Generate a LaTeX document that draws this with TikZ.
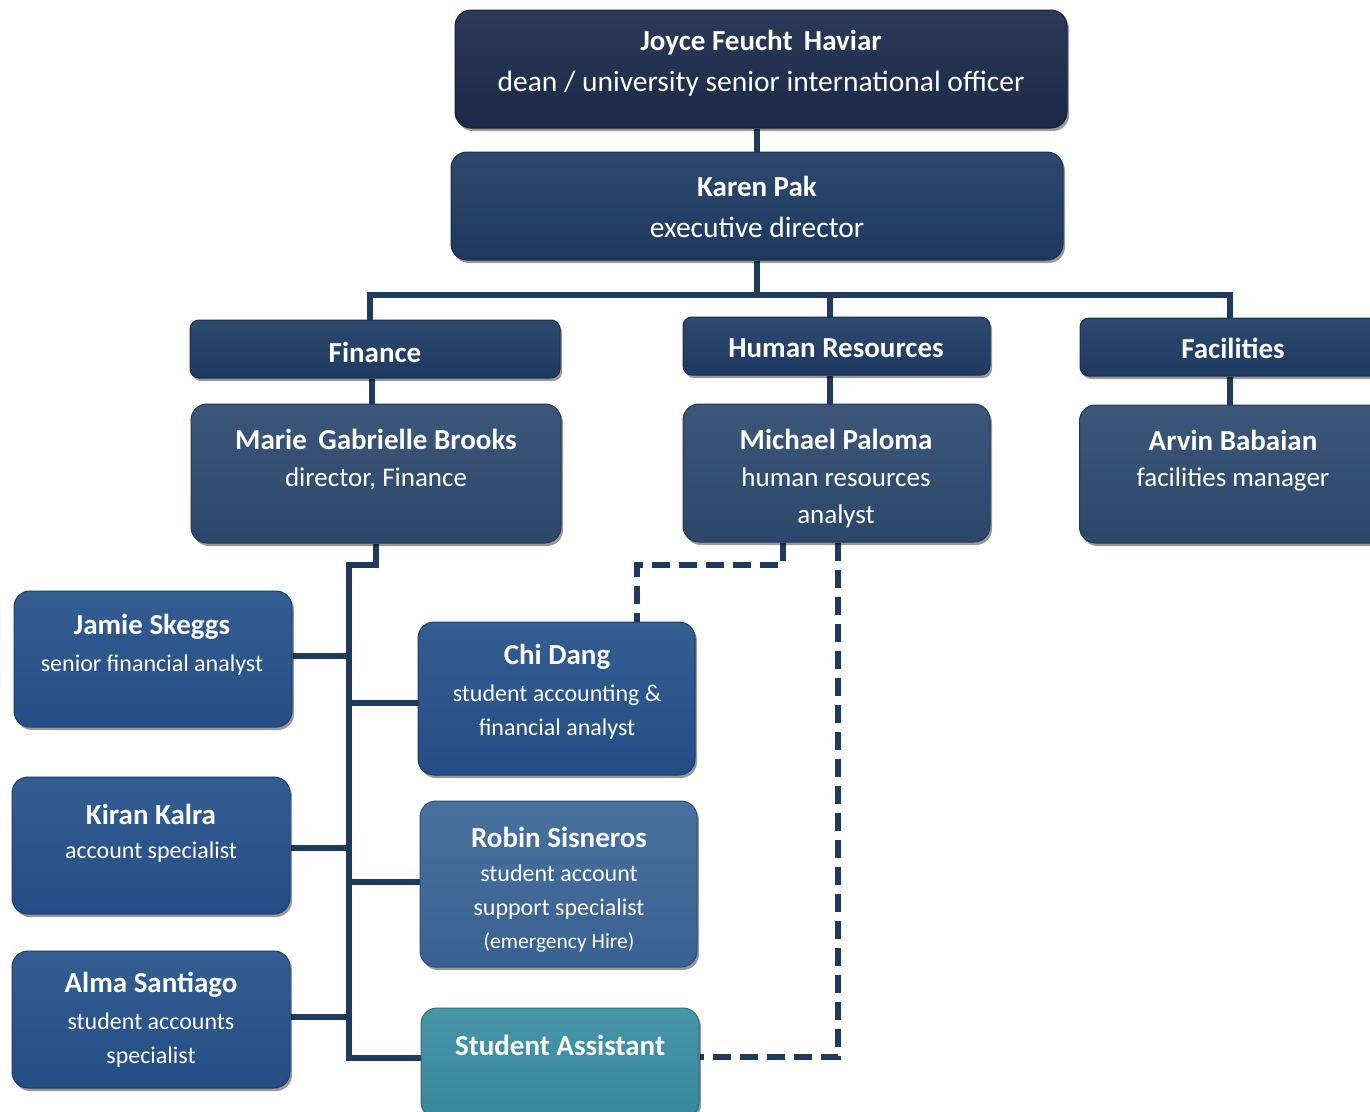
\documentclass[tikz,border=0pt]{standalone}
\usepackage{fontspec}
\setmainfont{Carlito}
\usetikzlibrary{shadows,calc,backgrounds}
\definecolor{cJoyce}{HTML}{1B2B4B}
\definecolor{cKaren}{HTML}{1F3B63}
\definecolor{cHead}{HTML}{1F3C64}
\definecolor{cMgr}{HTML}{2D4A6F}
\definecolor{cStaff}{HTML}{25518A}
\definecolor{cRobin}{HTML}{3B6698}
\definecolor{cSA}{HTML}{3A8DA3}
\definecolor{cLine}{HTML}{1F3A5F}
\tikzset{
  box/.style={rounded corners=16pt, draw=#1!75!black, line width=1pt,
    top color=#1!93!white, middle color=#1, bottom color=#1!96!black,
    drop shadow={shadow xshift=2pt, shadow yshift=-3pt, opacity=0.4, fill=black},
    inner sep=0pt},
  headbox/.style={box=#1, rounded corners=9pt},
  nametxt/.style={text=white, inner sep=0pt, font=\bfseries\fontsize{29}{34}\selectfont},
  subt/.style={text=white, inner sep=0pt, align=center, font=\fontsize{27}{37}\selectfont},
  smallt/.style={subt, font=\fontsize{24}{34}\selectfont},
  conn/.style={draw=cLine, line width=6pt},
  dconn/.style={draw=cLine, line width=6pt, dash pattern=on 18pt off 9pt},
}
\begin{document}
\begin{tikzpicture}[x=1pt, y=-1pt]
\useasboundingbox (0,0) rectangle (1370,1111);
\clip (0,0) rectangle (1370,1111);
\coordinate (bus) at (757,295);
\coordinate (trunk) at (349,565);
% boxes
\node[box=cJoyce, minimum width=612pt, minimum height=118pt] (joyce) at (761,69) {};
\node[box=cKaren, minimum width=612pt, minimum height=108pt] (karen) at (757,206) {};
\node[headbox=cHead, minimum width=370pt, minimum height=58pt] (fin) at (375,349) {};
\node[headbox=cHead, minimum width=307pt, minimum height=58pt] (hr) at (836.5,346) {};
\node[headbox=cHead, minimum width=306pt, minimum height=58pt] (fac) at (1233,347) {};
\node[box=cMgr, minimum width=370pt, minimum height=139pt] (marie) at (376,473.5) {};
\node[box=cMgr, minimum width=307pt, minimum height=138pt] (michael) at (836.5,473) {};
\node[box=cMgr, minimum width=307pt, minimum height=138pt] (arvin) at (1233,474) {};
\node[box=cStaff, minimum width=278pt, minimum height=136pt] (jamie) at (153,659) {};
\node[box=cStaff, minimum width=278pt, minimum height=137pt] (kiran) at (151,845.5) {};
\node[box=cStaff, minimum width=278pt, minimum height=137pt] (alma) at (151,1019.5) {};
\node[box=cStaff, minimum width=277pt, minimum height=153pt] (chi) at (556.5,698.5) {};
\node[box=cRobin, minimum width=277pt, minimum height=166pt] (robin) at (558.5,884) {};
\node[box=cSA, minimum width=278pt, minimum height=110pt] (sa) at (560,1063) {};
% connectors (behind boxes)
\begin{pgfonlayer}{background}
\fill[white] (0,0) rectangle (1370,1111);
\draw[conn] (joyce.south -| karen.north) -- (karen.north);
\draw[conn] (karen.south) -- (bus);
\draw[conn] ([xshift=-5pt]fin.north) |- (bus) -| ([xshift=-3pt]fac.north);
\draw[conn] (bus) -| ([xshift=-7pt]hr.north);
\draw[conn] ([xshift=-3pt]fin.south) -- ([xshift=-4pt]marie.north);
\draw[conn] ([xshift=-7pt]hr.south) -- ([xshift=-7pt]michael.north);
\draw[conn] ([xshift=-3pt]fac.south) -- ([xshift=-3pt]arvin.north);
\draw[conn] (marie.south) |- (trunk) |- ([yshift=5pt]sa.west);
\draw[conn] ([yshift=3pt]jamie.east) -- ([yshift=3pt]jamie.east -| trunk);
\draw[conn] ([yshift=-4pt]chi.west) -- ([yshift=-4pt]chi.west -| trunk);
\draw[conn] ([yshift=-2pt]kiran.east) -- ([yshift=-2pt]kiran.east -| trunk);
\draw[conn] ([yshift=2pt]robin.west) -- ([yshift=2pt]robin.west -| trunk);
\draw[conn] ([yshift=3pt]alma.east) -- ([yshift=3pt]alma.east -| trunk);
\draw[dconn] ([xshift=-54pt]michael.south) -- ++(0,22) -| ([xshift=80pt]chi.north);
\draw[dconn] ([xshift=1pt]michael.south) |- ([yshift=6pt]sa.east);
\end{pgfonlayer}
% texts
\node[nametxt] (tjoyce) at (761,43) {Joyce Feucht\, Haviar};
\node[subt, font=\fontsize{29.5}{34}\selectfont] (sjoyce) at (761,84) {dean / university senior international officer};
\node[nametxt] (tkaren) at (757,186) {Karen Pak};
\node[subt, font=\fontsize{29.5}{34}\selectfont] (skaren) at (757,227) {executive director};
\node[nametxt] (tfin) at (375,352) {Finance};
\node[nametxt] (thr) at (836,348) {Human Resources};
\node[nametxt] (tfac) at (1233,348) {Facilities};
\node[nametxt] (tmarie) at (376,439) {Marie\, Gabrielle Brooks};
\node[subt] (smarie) at (376,479) {director, Finance};
\node[nametxt] (tmichael) at (836,439) {Michael Paloma};
\node[subt] (smichael) at (836,497.5) {human resources\\analyst};
\node[nametxt] (tarvin) at (1233,440) {Arvin Babaian};
\node[subt] (sarvin) at (1233,479) {facilities manager};
\node[nametxt] (tjamie) at (152,627) {Jamie Skeggs};
\node[smallt] (sjamie) at (152,665) {senior financial analyst};
\node[nametxt] (tkiran) at (151,814) {Kiran Kalra};
\node[smallt] (skiran) at (151,852) {account specialist};
\node[nametxt] (talma) at (151,985) {Alma Santiago};
\node[smallt] (salma) at (151,1040) {student accounts\\specialist};
\node[nametxt] (tchi) at (557,657) {Chi Dang};
\node[smallt] (schi) at (557,712) {student accounting \&\\financial analyst};
\node[nametxt] (trobin) at (559,837) {Robin Sisneros};
\node[smallt] (srobin) at (559,892) {student account\\support specialist};
\node[subt, font=\fontsize{21.5}{26}\selectfont] (erobin) at (559,942) {(emergency Hire)};
\node[nametxt] (tsa) at (560,1045) {Student Assistant};
\end{tikzpicture}
\end{document}
